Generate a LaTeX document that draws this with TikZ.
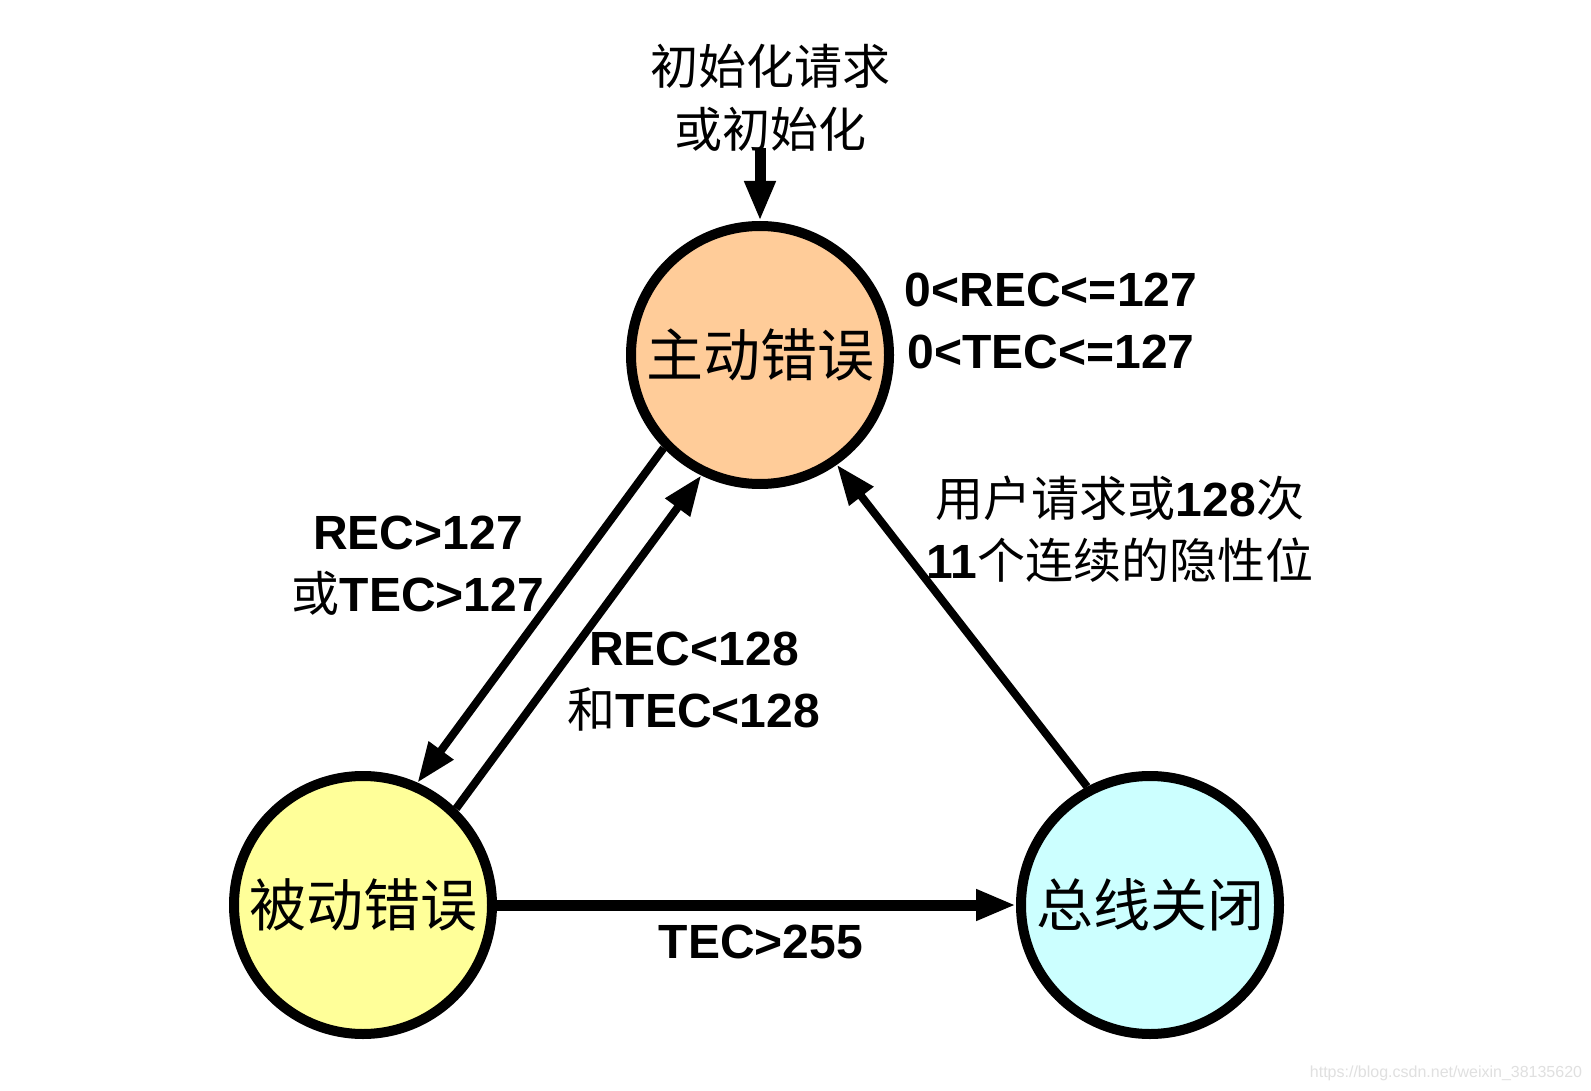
\documentclass[tikz,border=0pt]{standalone}
\usepackage{fontspec}
\setmainfont{Liberation Sans}
\newfontfamily\cjk{Noto Sans CJK SC}
\usetikzlibrary{arrows.meta}
\definecolor{peach}{RGB}{255,204,153}
\definecolor{lyellow}{RGB}{255,255,153}
\definecolor{lcyan}{RGB}{204,255,255}
\newcommand{\zh}[1]{{\cjk\mdseries #1}}
\begin{document}
\begin{tikzpicture}[x=0.5pt,y=-0.5pt,
  state/.style={circle,draw=black,line width=5pt,minimum size=129pt,inner sep=0pt,
    font=\cjk\fontsize{28.5pt}{34pt}\selectfont},
  lbl/.style={align=center,inner sep=0pt,font=\fontsize{24pt}{31pt}\selectfont\bfseries},
  cjklbl/.style={align=center,inner sep=0pt,font=\cjk\fontsize{24pt}{31.5pt}\selectfont},
  thickarr/.style={line width=5.5pt,-{Triangle[length=20pt,width=14.5pt]}},
  thinarr/.style={line width=4pt,-{Triangle[length=20pt,width=14.5pt]}}]
\useasboundingbox[fill=white] (0,0) rectangle (1591,1091);

\node[state,fill=peach]   (ae) at (760,355)  {主动错误};
\node[state,fill=lyellow] (ep) at (363,905)  {被动错误};
\node[state,fill=lcyan]   (bo) at (1150,905) {总线关闭};

\node[cjklbl] (init) at (770,98) {初始化请求\\或初始化};
\coordinate (initend) at (760,148);
\draw[thickarr] (initend) -- (ae.north);

\draw[thinarr] (ae.224) -- (ep.66);
\draw[thinarr] (ep.46) -- (ae.244);
\draw[thinarr] (bo.118) -- (ae.305);
\draw[thickarr] (ep.east) -- (bo.west);

\node[lbl] (l1) at (1051,321) {0<REC<=127\\0<TEC<=127};
\node[lbl] (l2) at (418,566) {REC>127\\\zh{或}TEC>127};
\node[lbl] (l3) at (694,682) {REC<128\\\zh{和}TEC<128};
\node[lbl] (l4) at (1120,529) {\zh{用户请求或}128\zh{次}\\11\zh{个连续的隐性位}};
\node[lbl] (l5) at (761,942) {TEC>255};

\node[inner sep=0pt,text=black!12,font=\fontsize{8pt}{10pt}\selectfont] (wm) at (1446,1073) {https://blog.csdn.net/weixin\_38135620};
\end{tikzpicture}
\end{document}
